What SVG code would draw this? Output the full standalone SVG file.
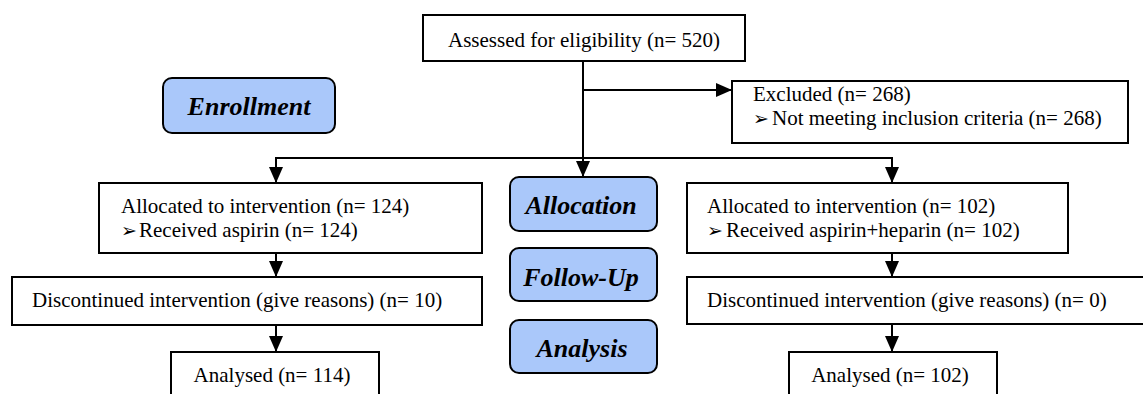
<svg xmlns="http://www.w3.org/2000/svg" width="1143" height="394" viewBox="0 0 1143 394">
<style>
.box{fill:#fff;stroke:#000;stroke-width:2}
.stage{fill:#aac8fa;stroke:#000;stroke-width:2}
.t{font-family:'Liberation Serif','Tinos','DejaVu Serif','Times New Roman',serif;font-size:21px;fill:#000}
.s{font-family:'Liberation Serif','Tinos','DejaVu Serif','Times New Roman',serif;font-size:26px;font-weight:bold;font-style:italic;fill:#000;text-anchor:middle}
.b{font-family:'DejaVu Sans',sans-serif;font-size:19px}
.c{fill:none;stroke:#000;stroke-width:2}
</style>
<defs>
<marker id="ah" markerWidth="16" markerHeight="14" refX="16" refY="7" orient="auto" markerUnits="userSpaceOnUse">
<path d="M0,0 L16,7 L0,14 Z" fill="#000"/>
</marker>
</defs>
<g id="connectors">
<path class="c" d="M583,61 V177" marker-end="url(#ah)"/>
<path class="c" d="M583,90 H732" marker-end="url(#ah)"/>
<path class="c" d="M276,158 H892"/>
<path class="c" d="M276,157 V183" marker-end="url(#ah)"/>
<path class="c" d="M892,157 V183" marker-end="url(#ah)"/>
<path class="c" d="M276,253 V277" marker-end="url(#ah)"/>
<path class="c" d="M892,253 V277" marker-end="url(#ah)"/>
<path class="c" d="M276,325 V352" marker-end="url(#ah)"/>
<path class="c" d="M892,324 V352" marker-end="url(#ah)"/>
</g>
<g id="assessed">
<rect class="box" x="423" y="15" width="322" height="46"/>
<text class="t" x="584" y="47" text-anchor="middle">Assessed for eligibility (n= 520)</text>
</g>
<g id="excluded">
<rect class="box" x="732" y="81" width="396" height="62"/>
<text class="t" x="753" y="101">Excluded (n= 268)</text>
<text class="t" y="125"><tspan class="b" x="753">➢</tspan><tspan x="772">Not meeting inclusion criteria (n= 268)</tspan></text>
</g>
<g id="enrollment">
<rect class="stage" x="163" y="78" width="172" height="55" rx="9"/>
<text class="s" x="249" y="115">Enrollment</text>
</g>
<g id="allocation">
<rect class="stage" x="510" y="177" width="147" height="54" rx="9"/>
<text class="s" x="581" y="214">Allocation</text>
</g>
<g id="followup">
<rect class="stage" x="510" y="248" width="147" height="53" rx="9"/>
<text class="s" x="581" y="286">Follow-Up</text>
</g>
<g id="analysis">
<rect class="stage" x="510" y="320" width="147" height="53" rx="9"/>
<text class="s" x="582" y="357">Analysis</text>
</g>
<g id="alloc-left">
<rect class="box" x="99" y="183" width="383" height="70"/>
<text class="t" x="121" y="213">Allocated to intervention (n= 124)</text>
<text class="t" y="237"><tspan class="b" x="121">➢</tspan><tspan x="139">Received aspirin (n= 124)</tspan></text>
</g>
<g id="alloc-right">
<rect class="box" x="687" y="183" width="381" height="70"/>
<text class="t" x="707" y="213">Allocated to intervention (n= 102)</text>
<text class="t" y="237"><tspan class="b" x="707">➢</tspan><tspan x="726">Received aspirin+heparin (n= 102)</tspan></text>
</g>
<g id="disc-left">
<rect class="box" x="12" y="277" width="470" height="48"/>
<text class="t" x="32" y="307">Discontinued intervention (give reasons) (n= 10)</text>
</g>
<g id="disc-right">
<rect class="box" x="687" y="277" width="470" height="47"/>
<text class="t" x="707" y="307">Discontinued intervention (give reasons) (n= 0)</text>
</g>
<g id="analysed-left">
<rect class="box" x="171" y="352" width="208" height="60"/>
<text class="t" x="272" y="382" text-anchor="middle">Analysed (n= 114)</text>
</g>
<g id="analysed-right">
<rect class="box" x="789" y="352" width="208" height="60"/>
<text class="t" x="890" y="382" text-anchor="middle">Analysed (n= 102)</text>
</g>
</svg>
